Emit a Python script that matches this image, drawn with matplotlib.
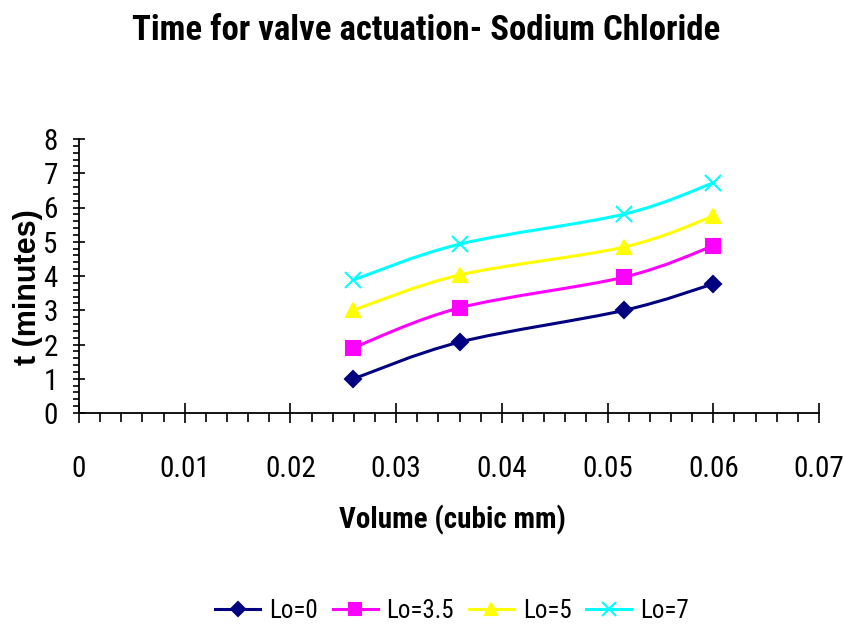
import matplotlib
matplotlib.use("Agg")
import matplotlib.pyplot as plt
from matplotlib.path import Path
from matplotlib.patches import PathPatch
from matplotlib.lines import Line2D
from matplotlib.ticker import MultipleLocator, FormatStrFormatter

# 데이터
volume = [0.0259, 0.036, 0.0516, 0.06]
lo_0 = [0.99, 2.07, 3.0, 3.77]
lo_35 = [1.9, 3.07, 3.97, 4.88]
lo_5 = [3.0, 4.03, 4.85, 5.75]
lo_7 = [3.88, 4.93, 5.81, 6.72]

series_names = ["Lo=0", "Lo=3.5", "Lo=5", "Lo=7"]
series_vals = [lo_0, lo_35, lo_5, lo_7]
colors = ["#000080", "#FF00FF", "#FFFF00", "#00FFFF"]
markers = ["D", "s", "^", "x"]
msizes = [8, 10, 10, 11]

narrow = ["Liberation Sans Narrow", "Roboto Condensed", "Archivo Narrow", "DejaVu Sans"]
plt.rcParams["font.family"] = narrow


def smooth_path(xs, ys):
    # Excel 스타일 부드러운 선 (Bezier)
    pts = list(zip(xs, ys))
    verts = [pts[0]]
    codes = [Path.MOVETO]
    n = len(pts)
    for i in range(n - 1):
        p0 = pts[i - 1] if i > 0 else pts[i]
        p1 = pts[i]
        p2 = pts[i + 1]
        p3 = pts[i + 2] if i + 2 < n else pts[i + 1]
        c1 = (p1[0] + (p2[0] - p0[0]) / 6, p1[1] + (p2[1] - p0[1]) / 6)
        c2 = (p2[0] - (p3[0] - p1[0]) / 6, p2[1] - (p3[1] - p1[1]) / 6)
        verts += [c1, c2, p2]
        codes += [Path.CURVE4] * 3
    return Path(verts, codes)


fig = plt.figure(figsize=(8.44, 6.26), dpi=100)
ax = fig.add_axes([79 / 844, 1 - 413 / 626, 740 / 844, 274 / 626])

handles = []
for name, vals, c, m, ms in zip(series_names, series_vals, colors, markers, msizes):
    ax.add_patch(PathPatch(smooth_path(volume, vals), facecolor="none",
                           edgecolor=c, lw=2.2, zorder=2))
    ax.plot(volume, vals, linestyle="none", marker=m, color=c, ms=ms,
            mew=1.5, zorder=3)
    handles.append(Line2D([], [], color=c, lw=2.2, marker=m, ms=ms - 1, mew=1.5, label=name))

ax.set_xlim(0, 0.07)
ax.set_ylim(0, 8)
ax.xaxis.set_major_locator(MultipleLocator(0.01))
ax.xaxis.set_minor_locator(MultipleLocator(0.002))
ax.yaxis.set_major_locator(MultipleLocator(1))
ax.yaxis.set_minor_locator(MultipleLocator(0.2))
ax.xaxis.set_major_formatter(FormatStrFormatter("%g"))

for s in ["top", "right"]:
    ax.spines[s].set_visible(False)
for s in ["left", "bottom"]:
    ax.spines[s].set_linewidth(1.3)
    ax.spines[s].set_color("black")

ax.tick_params(axis="x", which="major", direction="inout", length=14, width=1.2,
               pad=23, labelsize=21)
ax.tick_params(axis="x", which="minor", direction="out", length=6.5, width=1.2)
ax.tick_params(axis="y", which="major", direction="inout", length=8.6, width=1.2,
               pad=11, labelsize=21)
ax.tick_params(axis="y", which="minor", direction="out", length=4.3, width=1.2)

fig.text(426 / 844, 1 - 30 / 626, "Time for valve actuation- Sodium Chloride",
         ha="center", va="center", fontsize=25, fontweight="bold")
fig.text(452 / 844, 1 - 520 / 626, "Volume (cubic mm)", ha="center", va="center",
         fontsize=21, fontweight="bold")
fig.text(28 / 844, 1 - 287 / 626, "t (minutes)", ha="center", va="center",
         rotation=90, fontsize=22, fontweight="bold",
         family=["Liberation Sans", "Arimo", "Roboto", "DejaVu Sans"])

fig.legend(handles=handles, loc="center", bbox_to_anchor=(452 / 844, 1 - 611 / 626),
           ncol=4, frameon=False, fontsize=18, handlelength=1.8, handletextpad=0.35,
           columnspacing=0.6, borderaxespad=0)

fig.savefig("out.png", dpi=100)
